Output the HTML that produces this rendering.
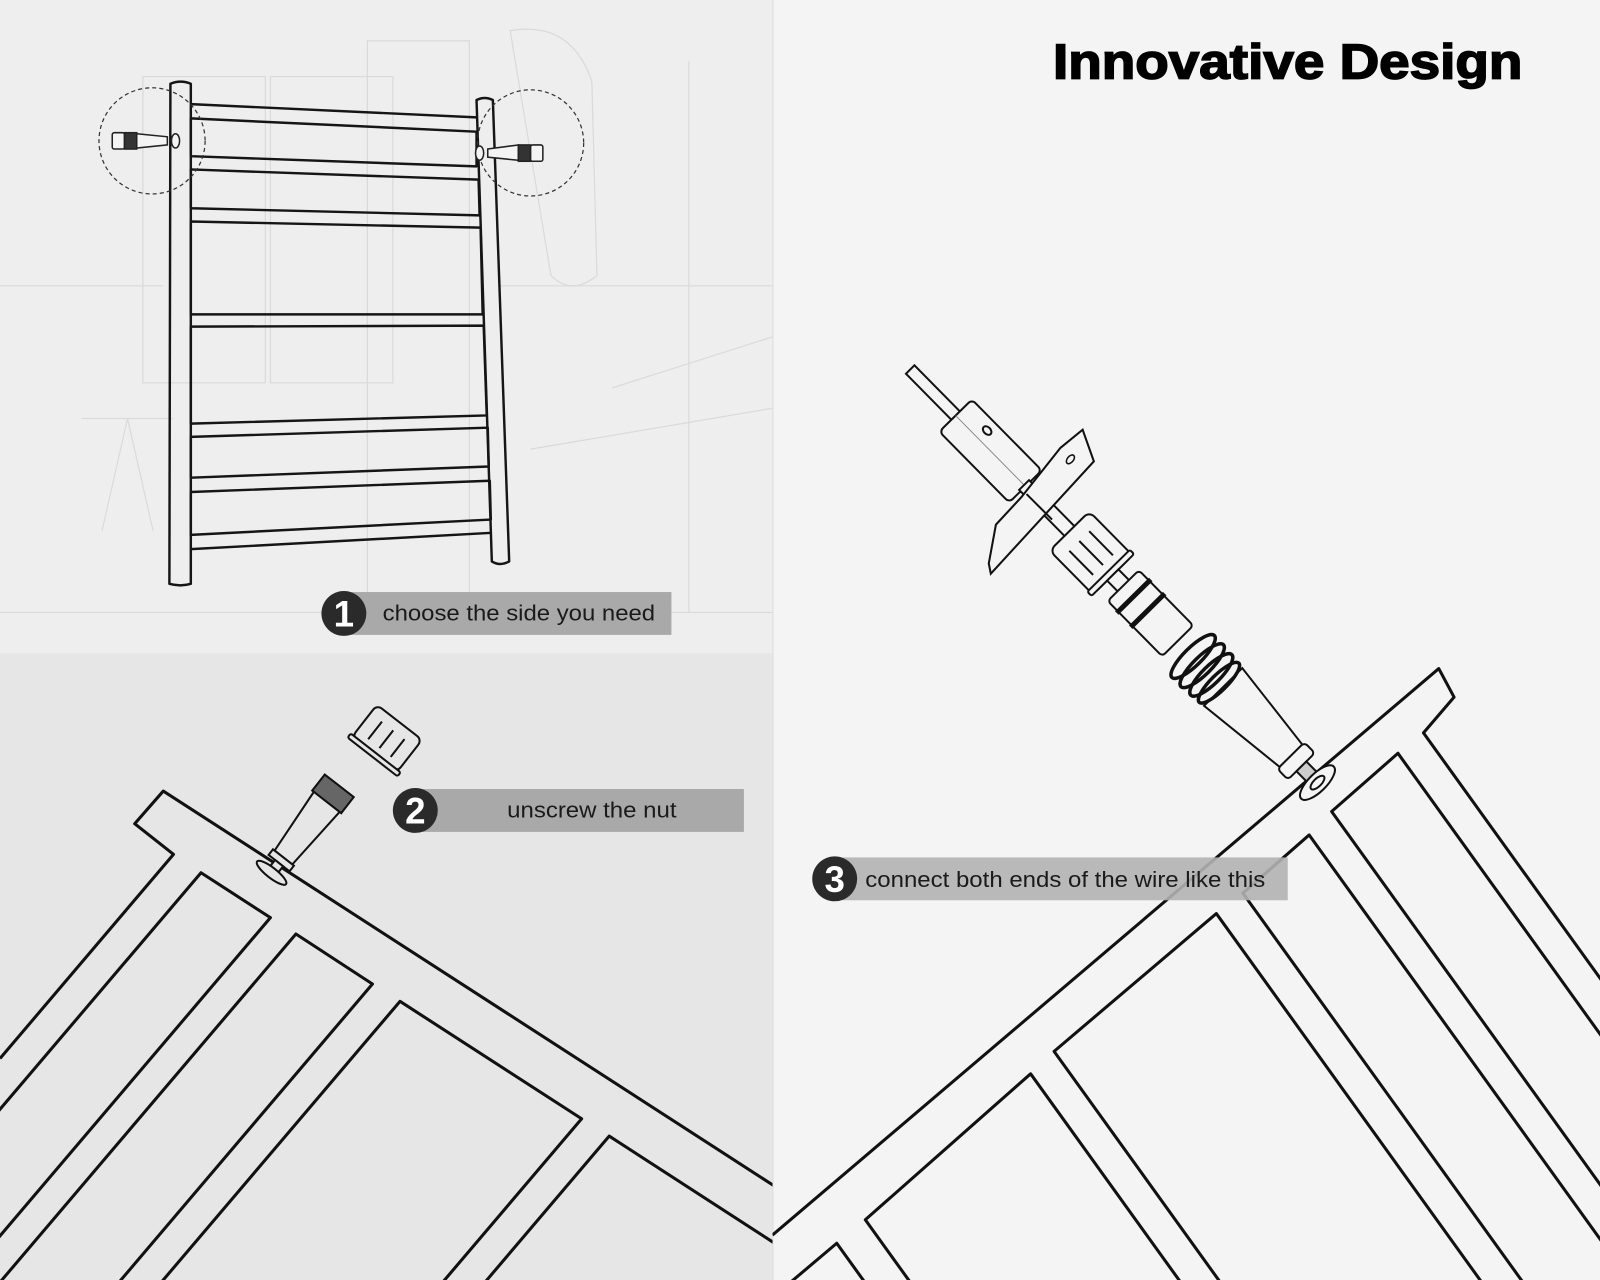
<!DOCTYPE html>
<html><head><meta charset="utf-8"><style>
html,body{margin:0;padding:0;background:#f4f4f4;width:1600px;height:1280px;overflow:hidden;}
svg{display:block;overflow:hidden;}
text{font-family:"Liberation Sans",sans-serif;}
</style></head><body>
<svg width="1600" height="1280" viewBox="0 0 1568 1254" preserveAspectRatio="none" xmlns="http://www.w3.org/2000/svg">
<defs>
<clipPath id="lc"><rect x="0" y="0" width="757" height="1254"/></clipPath>
<clipPath id="rc"><rect x="757" y="0" width="811" height="1254"/></clipPath>
</defs>
<rect x="0" y="0" width="1568" height="1254" fill="#f4f4f4"/>
<rect x="0" y="0" width="757" height="640" fill="#eeeeee"/>
<rect x="0" y="640" width="757" height="614" fill="#e6e6e6"/>
<line x1="757.5" y1="0" x2="757.5" y2="1254" stroke="#dcdcdc" stroke-width="1"/>
<g fill="none" stroke="#dadada" stroke-width="1.2">
<rect x="140" y="75" width="120" height="300"/>
<rect x="265" y="75" width="120" height="300"/>
<rect x="360" y="40" width="100" height="560"/>
<path d="M500 30 Q560 20 580 80 L585 270 Q560 290 540 270 Z"/>
<line x1="0" y1="280" x2="160" y2="280"/><line x1="490" y1="280" x2="757" y2="280"/>
<path d="M80 410 L170 410 M125 410 L100 520 M125 410 L150 520"/>
<line x1="0" y1="600" x2="757" y2="600"/>
<line x1="675" y1="60" x2="675" y2="600"/>
<path d="M600 380 L757 330 M520 440 L757 400"/>
</g>
<g fill="none" stroke="#151515" stroke-width="2.4" stroke-linejoin="round">
<path d="M167 82 Q177 78 187 82 L187 572 Q177 575 166 572 Z"/>
<path d="M467 98 Q475 94 483 98 L499 550 Q490 555 482 550 Z"/>
<path d="M187 102 L467 115"/>
<path d="M187 116 L467 129 L467 163 L187 153 Z"/>
<path d="M187 166 L469 176 L470 211 L187 204 Z"/>
<path d="M187 217 L471 223 L473 308 L187 308 Z"/>
<path d="M187 320 L474 319 L477 407 L187 415 Z"/>
<path d="M187 428 L478 419 L479 457 L187 468 Z"/>
<path d="M187 482 L480 471 L481 509 L187 524 Z"/>
<path d="M187 538 L482 522"/>
</g>
<g fill="none" stroke="#333" stroke-width="1.2" stroke-dasharray="4 3">
<circle cx="149" cy="138" r="52"/>
<circle cx="520" cy="140" r="52"/>
</g>
<g stroke="#222" stroke-width="1.5" fill="#f4f4f4">
<rect x="110" y="130" width="12" height="16" rx="2"/>
<rect x="122" y="130" width="12" height="16" fill="#333"/>
<path d="M134 131 L164 134 L164 142 L134 145 Z"/>
<ellipse cx="172" cy="138" rx="4" ry="7"/>
<ellipse cx="470" cy="150" rx="4" ry="7"/>
<path d="M478 146 L508 142 L508 157 L478 154 Z"/>
<rect x="508" y="142" width="12" height="16" fill="#333"/>
<rect x="520" y="142" width="12" height="16" rx="2"/>
</g>
<g fill="none" stroke="#111" stroke-width="3" stroke-linejoin="round" clip-path="url(#lc)">
<path d="M790 1182 L160 775 L132 807 L170 837 L0 1037"/>
<path d="M-143 1255 L197 855 L265 899 L-75 1299"/>
<path d="M-50 1315 L290 915 L365 964 L25 1364"/>
<path d="M52 1381 L392 981 L570 1096 L230 1496"/>
<path d="M257 1513 L597 1113 L790 1238"/>
</g>
<g transform="translate(378,725) rotate(127.9)" stroke="#111" stroke-width="2" fill="#e6e6e6">
<rect x="-22" y="-28" width="40" height="56" rx="6"/>
<rect x="16" y="-31" width="5" height="62" rx="2"/>
<line x1="-12" y1="-14" x2="10" y2="-14"/><line x1="-12" y1="0" x2="10" y2="0"/><line x1="-12" y1="14" x2="10" y2="14"/>
</g>
<g transform="translate(330,773) rotate(127.9)" stroke="#111" stroke-width="2" fill="#e6e6e6">
<rect x="-4" y="-18" width="20" height="36" fill="#666"/>
<path d="M16 -16 L85 -11 L85 11 L16 16 Z"/>
<rect x="85" y="-13" width="7" height="26"/>
<rect x="92" y="-5" width="9" height="10"/>
<ellipse cx="104" cy="0" rx="5" ry="18"/>
</g>
<g fill="none" stroke="#111" stroke-width="3" stroke-linejoin="round" clip-path="url(#rc)">
<path d="M757 1210 L1410 655 L1425 683 L1395 718 L1827 1318"/>
<path d="M1802 1338 L1370 738 L1305 795 L1737 1395"/>
<path d="M1715 1418 L1283 818 L1218 875 L1650 1475"/>
<path d="M1624 1495 L1192 895 L1033 1030 L1465 1630"/>
<path d="M1442 1652 L1010 1052 L848 1195 L1280 1795"/>
<path d="M1252 1818 L820 1218 L775 1256"/>
</g>
<g transform="translate(892,362) rotate(45.4) scale(0.975)" stroke="#111" stroke-width="2" fill="#f4f4f4">
<rect x="0" y="-6" width="168" height="12"/>
<rect x="65" y="-23" width="100" height="46" rx="5"/>
<line x1="65" y1="0" x2="165" y2="0" stroke="#888" stroke-width="1"/>
<ellipse cx="98" cy="-12" rx="5" ry="3.5"/>
<rect x="163" y="-7" width="70" height="14"/>
<rect x="228" y="-28" width="62" height="56" rx="7"/>
<rect x="284" y="-30" width="6" height="60" rx="2"/>
<line x1="242" y1="-14" x2="276" y2="-14"/><line x1="242" y1="0" x2="276" y2="0"/><line x1="242" y1="14" x2="276" y2="14"/>
<rect x="290" y="-8" width="18" height="16"/>
<rect x="305" y="-22" width="78" height="44" rx="4"/>
<line x1="320" y1="-24" x2="320" y2="24" stroke-width="5"/>
<line x1="340" y1="-24" x2="340" y2="24" stroke-width="5"/>
<path d="M448 -27 L545 -16 L545 16 L448 27 Z"/>
<g fill="none" stroke-width="3.5">
<ellipse cx="405" cy="0" rx="9" ry="30"/><ellipse cx="418" cy="0" rx="9" ry="30"/>
<ellipse cx="431" cy="0" rx="9" ry="29"/><ellipse cx="442" cy="0" rx="8" ry="28"/>
</g>
<rect x="545" y="-19" width="15" height="38" rx="4"/>
<rect x="560" y="-7" width="16" height="14" fill="#ccc"/>
<ellipse cx="583" cy="0" rx="9" ry="23"/>
<ellipse cx="583" cy="0" rx="4" ry="9"/>
</g>
<path d="M1039 439 L1061 421 L1072 452 L971 562 L969 552 L976 514 L1001 487 Z" fill="#f4f4f4" stroke="#111" stroke-width="2"/>
<ellipse cx="1049" cy="450" rx="3" ry="5" fill="none" stroke="#111" stroke-width="1.5" transform="rotate(40 1049 450)"/>
<line x1="1006" y1="484" x2="1031" y2="509" stroke="#111" stroke-width="2"/>
<rect x="337" y="580" width="321" height="42" fill="#a9a9a9"/>
<circle cx="337" cy="601" r="22" fill="#2a2a2a"/>
<text x="337" y="614" font-size="36" font-weight="bold" fill="#fff" text-anchor="middle">1</text>
<text x="375" y="608" font-size="22" fill="#1a1a1a" textLength="267" lengthAdjust="spacingAndGlyphs">choose the side you need</text>
<rect x="407" y="773" width="322" height="42" fill="#a9a9a9"/>
<circle cx="407" cy="794" r="22" fill="#2a2a2a"/>
<text x="407" y="807" font-size="36" font-weight="bold" fill="#fff" text-anchor="middle">2</text>
<text x="497" y="801" font-size="22" fill="#1a1a1a" textLength="166" lengthAdjust="spacingAndGlyphs">unscrew the nut</text>
<rect x="818" y="840" width="444" height="42" fill="#b3b3b3" fill-opacity="0.9"/>
<circle cx="818" cy="861" r="22" fill="#2a2a2a"/>
<text x="818" y="874" font-size="36" font-weight="bold" fill="#fff" text-anchor="middle">3</text>
<text x="848" y="869" font-size="22" fill="#1a1a1a" textLength="392" lengthAdjust="spacingAndGlyphs">connect both ends of the wire like this</text>
<text x="1032" y="77" font-size="48" font-weight="bold" fill="#000" stroke="#000" stroke-width="1.6" textLength="460" lengthAdjust="spacingAndGlyphs">Innovative Design</text>
</svg>
</body></html>
